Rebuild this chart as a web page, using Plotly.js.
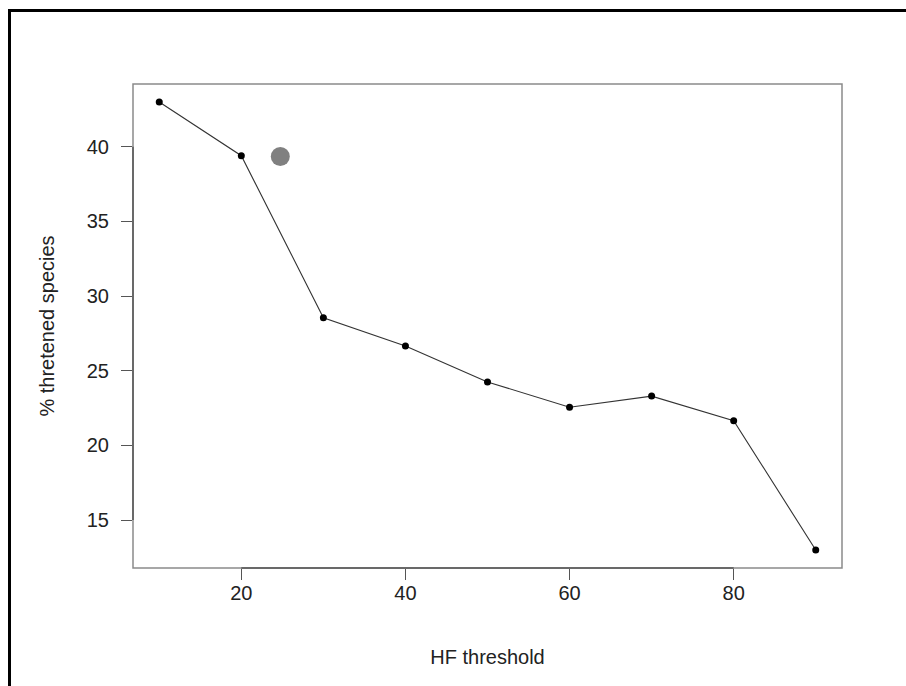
<!DOCTYPE html>
<html>
<head>
<meta charset="utf-8">
<script src="https://cdn.plot.ly/plotly-3.0.1.min.js"></script>
<style>
  html, body { margin: 0; padding: 0; background: #fff; }
  #wrap { position: relative; width: 906px; height: 686px; overflow: hidden; }
  #frame { position: absolute; left: 8px; top: 9px; width: 920px; height: 700px;
           border-top: 3px solid #000; border-left: 3px solid #000; pointer-events: none; }
  #chart { position: absolute; left: 0; top: 0; width: 906px; height: 686px; }
</style>
</head>
<body>
<div id="wrap">
  <div id="chart"></div>
  <div id="frame"></div>
</div>
<script>
// Data
var hfThreshold = [10, 20, 30, 40, 50, 60, 70, 80, 90];
var pctThreatened = [43.0, 39.4, 28.55, 26.65, 24.25, 22.55, 23.3, 21.65, 13.0];
var highlightX = [24.75];
var highlightY = [39.35];
var xTicks = [20, 40, 60, 80];
var yTicks = [15, 20, 25, 30, 35, 40];

var font = "Liberation Sans, Arial, Helvetica, sans-serif";

var traces = [
  {
    x: hfThreshold, y: pctThreatened,
    type: "scatter", mode: "lines+markers",
    line: { color: "#333333", width: 1.1 },
    marker: { color: "#000000", size: 7 },
    hoverinfo: "x+y", showlegend: false
  },
  {
    x: highlightX, y: highlightY,
    type: "scatter", mode: "markers",
    marker: { color: "#808080", size: 19 },
    showlegend: false
  }
];

var layout = {
  width: 906, height: 686,
  margin: { l: 133, r: 64, t: 84, b: 118, pad: 0 },
  paper_bgcolor: "#ffffff", plot_bgcolor: "#ffffff",
  font: { family: font, size: 20, color: "#222222" },
  xaxis: {
    range: [6.8, 93.2], tickvals: xTicks, ticktext: xTicks.map(String),
    ticks: "outside", ticklen: 11, tickwidth: 1, tickcolor: "#555555",
    showgrid: false, zeroline: false, showline: false,
    tickfont: { family: font, size: 20, color: "#222222" },
    ticklabelstandoff: -4,
    title: { text: "HF threshold", font: { family: font, size: 20, color: "#222222" }, standoff: 46 },
    automargin: false
  },
  yaxis: {
    range: [11.79, 44.2], tickvals: yTicks, ticktext: yTicks.map(String),
    ticks: "outside", ticklen: 11, tickwidth: 1, tickcolor: "#555555",
    showgrid: false, zeroline: false, showline: false,
    tickfont: { family: font, size: 20, color: "#222222" },
    ticklabelstandoff: 8,
    title: { text: "% thretened species", font: { family: font, size: 20, color: "#222222" }, standoff: 26 },
    automargin: false
  },
  shapes: [
    { type: "rect", xref: "paper", yref: "paper", x0: 0, x1: 1, y0: 0, y1: 1,
      line: { color: "#8a8a8a", width: 1.5 }, fillcolor: "rgba(0,0,0,0)", layer: "below" },
    { type: "line", xref: "x", yref: "paper", x0: xTicks[0], x1: xTicks[xTicks.length - 1], y0: 0, y1: 0,
      line: { color: "#555555", width: 1.5 } },
    { type: "line", xref: "paper", yref: "y", x0: 0, x1: 0, y0: yTicks[0], y1: yTicks[yTicks.length - 1],
      line: { color: "#555555", width: 1.5 } }
  ]
};

Plotly.newPlot("chart", traces, layout, { staticPlot: true, displayModeBar: false });
</script>
</body>
</html>
